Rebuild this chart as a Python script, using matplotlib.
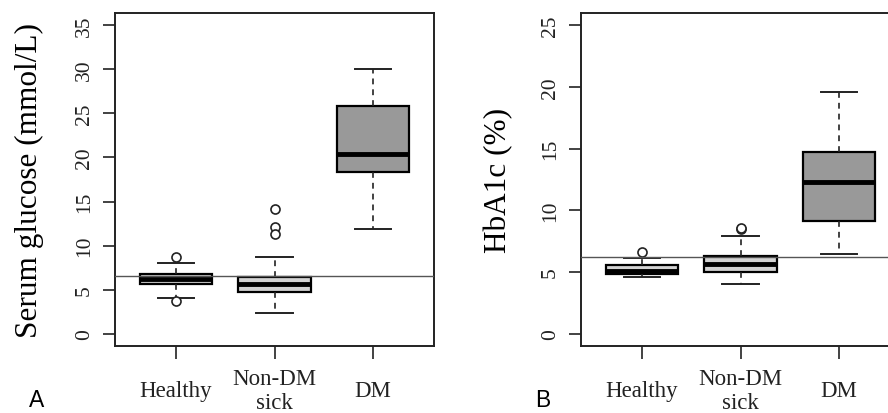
import numpy as np
import matplotlib
matplotlib.use("Agg")
import matplotlib.pyplot as plt

# groups shown on the x axis
groups = ["Healthy", "Non-DM\nsick", "DM"]
fills = ["#d3d3d3", "#d3d3d3", "#999999"]

# panel A: serum glucose (mmol/L), five-number summaries
glu_whislo = [4.1, 2.4, 11.9]
glu_q1 = [5.6, 4.7, 18.4]
glu_med = [6.15, 5.6, 20.45]
glu_q3 = [6.8, 6.45, 25.9]
glu_whishi = [8.0, 8.65, 30.0]
glu_fliers = [[8.75, 3.7], [14.2, 12.1, 11.3], []]
glu_cutoff = 6.6

# panel B: HbA1c (%)
hb_whislo = [4.6, 4.0, 6.45]
hb_q1 = [4.86, 5.02, 9.15]
hb_med = [5.1, 5.65, 12.3]
hb_q3 = [5.55, 6.3, 14.7]
hb_whishi = [6.15, 7.9, 19.6]
hb_fliers = [[6.6], [8.5, 8.6], []]
hb_cutoff = 6.2

plt.rcParams["font.family"] = ["Liberation Serif", "DejaVu Serif"]

W, H = 888, 414
fig = plt.figure(figsize=(W / 100, H / 100), dpi=100)


def make_stats(lo, q1, med, q3, hi, fl):
    stats = []
    for i in range(len(med)):
        stats.append(dict(whislo=lo[i], q1=q1[i], med=med[i], q3=q3[i],
                          whishi=hi[i], fliers=np.array(fl[i])))
    return stats


def draw_panel(ax, stats, cutoff, ymax, ylabel, label_x, letter, letter_x):
    bp = ax.bxp(stats, positions=[1, 2, 3], widths=0.74, capwidths=0.37,
                patch_artist=True, showfliers=True,
                boxprops=dict(edgecolor="black", linewidth=1.6),
                medianprops=dict(color="black", linewidth=3.5, solid_capstyle="butt"),
                whiskerprops=dict(color="#222222", linewidth=1.2, linestyle=(0, (3.5, 3))),
                capprops=dict(color="#222222", linewidth=1.4),
                flierprops=dict(marker="o", markerfacecolor="white",
                                markeredgecolor="#222222", markersize=6.5,
                                markeredgewidth=1.2))
    for patch, c in zip(bp["boxes"], fills):
        patch.set_facecolor(c)

    # cut-off line across the whole panel
    ax.axhline(cutoff, color="#555555", linewidth=1.0, zorder=5)

    ax.set_xlim(0.38, 3.62)
    ax.set_ylim(-ymax * 0.04, ymax * 1.04)
    ax.set_yticks(np.arange(0, ymax + 1, 5))
    ax.set_xticks([1, 2, 3])
    ax.set_xticklabels(groups, va="center", fontsize=16.5)
    ax.tick_params(axis="x", length=9, width=1.2, pad=23, colors="#222222")
    ax.tick_params(axis="y", length=9, width=1.2, pad=6, labelsize=15.5,
                   labelrotation=90, colors="#222222")
    for t in ax.get_yticklabels():
        t.set_va("center")
    for s in ax.spines.values():
        s.set_linewidth(1.4)
        s.set_color("#222222")

    ax.set_ylabel(ylabel, fontsize=22.5)
    ax.yaxis.set_label_coords(label_x, 0.5)

    fig.text(letter_x, 2 / H, letter, fontsize=16.5,
             family=["Liberation Sans", "DejaVu Sans"], ha="left", va="bottom")


bottom = (H - 347) / H
height = (347 - 14) / H
width = 319 / W

axA = fig.add_axes([115 / W, bottom, width, height])
draw_panel(axA, make_stats(glu_whislo, glu_q1, glu_med, glu_q3, glu_whishi, glu_fliers),
           glu_cutoff, 35, "Serum glucose (mmol/L)", -0.2226, "A", 29 / W)

axB = fig.add_axes([581 / W, bottom, width, height])
draw_panel(axB, make_stats(hb_whislo, hb_q1, hb_med, hb_q3, hb_whishi, hb_fliers),
           hb_cutoff, 25, "HbA1c (%)", -0.213, "B", 535 / W)

fig.savefig("out.png", dpi=100)
